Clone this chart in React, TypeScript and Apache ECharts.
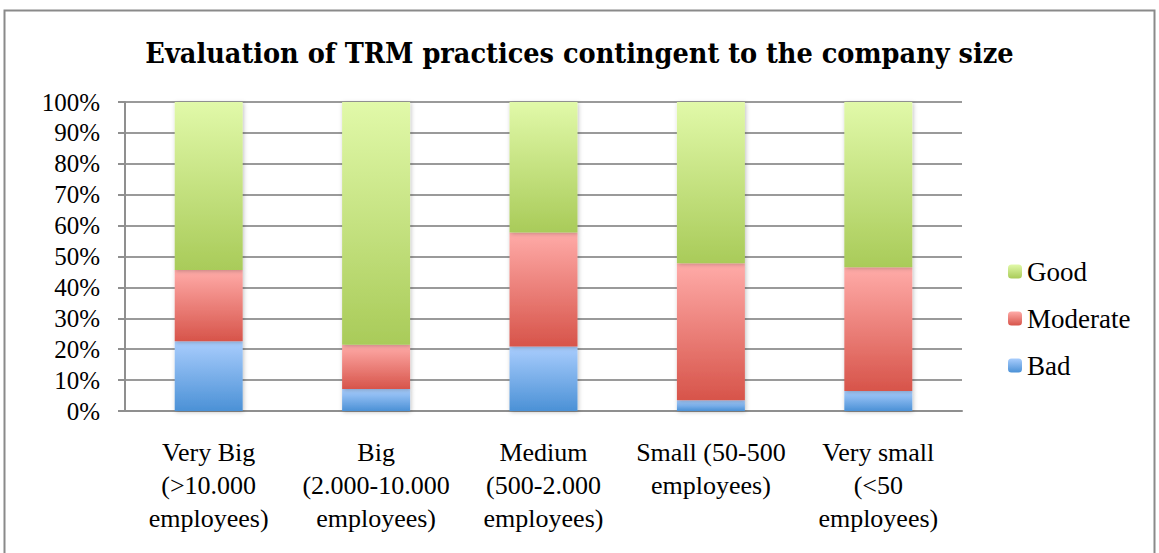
import React, { useEffect, useRef } from "react";
import * as echarts from "echarts";

const categories = [
  "Very Big\n(>10.000\nemployees)",
  "Big\n(2.000-10.000\nemployees)",
  "Medium\n(500-2.000\nemployees)",
  "Small (50-500\nemployees)",
  "Very small\n(<50\nemployees)",
];
const bad = [22.6, 7.1, 20.9, 3.5, 6.5];
const moderate = [23.0, 14.3, 36.9, 44.3, 40.0];
const good = [54.4, 78.6, 42.2, 52.2, 53.5];
const seriesNames = ["Bad", "Moderate", "Good"];
const legendOrder = ["Good", "Moderate", "Bad"];
const titleText = "Evaluation of TRM practices contingent to the company size";

const grad = (top: string, bottom: string) =>
  new echarts.graphic.LinearGradient(0, 0, 0, 1, [
    { offset: 0, color: top },
    { offset: 1, color: bottom },
  ]);

export default function App() {
  const ref = useRef<HTMLDivElement>(null);
  useEffect(() => {
    if (!ref.current) return;
    const chart = echarts.init(ref.current, undefined, { renderer: "svg" });
    const font = "Liberation Serif";
    const colors = [
      grad("#a9cdfd", "#4b91d6"),
      grad("#ffaba8", "#d7544a"),
      grad("#e1f9a9", "#a9cb59"),
    ];
    const data = [bad, moderate, good];
    chart.setOption({
      animation: false,
      backgroundColor: "#ffffff",
      title: {
        text: titleText,
        left: "center",
        top: 33,
        textStyle: {
          fontFamily: "DejaVu Serif Condensed",
          fontWeight: "bold",
          fontSize: 28.5,
          color: "#000",
        },
      },
      graphic: [
        {
          type: "rect",
          shape: { x: 4.5, y: 10.5, width: 1150, height: 560 },
          style: { fill: "none", stroke: "#8a8a8a", lineWidth: 2 },
          silent: true,
        },
      ],
      legend: {
        orient: "vertical",
        left: 1003,
        top: 253,
        itemWidth: 14,
        itemHeight: 14,
        itemGap: 20,
        data: legendOrder,
        textStyle: { fontFamily: font, fontSize: 27, color: "#000" },
      },
      grid: { left: 125, right: 197, top: 102, bottom: 142 },
      xAxis: {
        type: "category",
        data: categories,
        axisLine: { lineStyle: { color: "#8f8f8f", width: 2 } },
        axisTick: { length: 7, lineStyle: { color: "#8f8f8f", width: 2 } },
        axisLabel: {
          fontFamily: font,
          fontSize: 26,
          color: "#000",
          lineHeight: 33,
          margin: 25,
          interval: 0,
          verticalAlign: "top",
        },
      },
      yAxis: {
        type: "value",
        min: 0,
        max: 100,
        interval: 10,
        axisLine: { show: true, lineStyle: { color: "#8f8f8f", width: 2 } },
        axisTick: { show: true, length: 7, lineStyle: { color: "#8f8f8f", width: 2 } },
        splitLine: { lineStyle: { color: "#9a9a9a", width: 2 } },
        axisLabel: {
          fontFamily: font,
          fontSize: 25,
          color: "#000",
          margin: 25,
          formatter: "{value}%",
        },
      },
      series: seriesNames.map((name, i) => ({
        name,
        type: "bar",
        stack: "total",
        barWidth: "40.6%",
        data: data[i],
        itemStyle: {
          color: colors[i],
          shadowBlur: 4,
          shadowColor: "rgba(0,0,0,0.25)",
          shadowOffsetX: 1,
          shadowOffsetY: 1,
        },
      })),
    });
    return () => chart.dispose();
  }, []);
  return (
    <div
      ref={ref}
      style={{ position: "fixed", left: 0, top: 0, width: 1159, height: 553 }}
    />
  );
}
